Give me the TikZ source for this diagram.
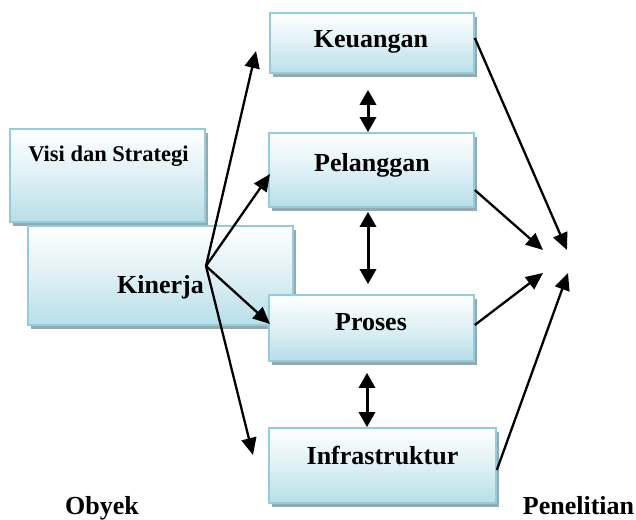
\documentclass[tikz,border=0pt]{standalone}
\usepackage{fontspec}
\setmainfont{Liberation Serif}
\usepackage{tikz}
\usetikzlibrary{arrows.meta}
\usetikzlibrary{shadows}

\definecolor{garis}{RGB}{147,205,221}
\definecolor{isian}{RGB}{183,222,232}
\definecolor{bayang}{RGB}{149,169,174}

\tikzset{
  kotak/.style={draw=garis, line width=1.6pt, top color=white,
    bottom color=isian, middle color=isian!45,
    drop shadow={shadow xshift=3pt, shadow yshift=-4pt, fill=bayang, opacity=1},
    inner sep=0pt},
  judul/.style={anchor=base, font=\bfseries\fontsize{26}{30}\selectfont, inner sep=0pt},
  panah/.style={line width=2.3pt, -{Triangle[length=17pt,width=15pt]}},
  panahdua/.style={line width=3pt,
    {Triangle[length=15pt,width=16pt]}-{Triangle[length=15pt,width=16pt]}}
}

\begin{document}
\begin{tikzpicture}[x=1pt,y=-1pt]
  \useasboundingbox
    (0,0)
    rectangle
    (636,519);
  \node[kotak, minimum width=195pt, minimum height=93pt]
    (visi) at (107.5,175.5) {};
  \node[kotak, minimum width=265pt, minimum height=99pt]
    (kin) at (160.5,275.5) {};
  \node[kotak, minimum width=204pt, minimum height=60pt]
    (keu) at (372,43) {};
  \node[kotak, minimum width=205pt, minimum height=74pt]
    (pel) at (371.5,170) {};
  \node[kotak, minimum width=205pt, minimum height=66pt]
    (pro) at (371.5,328) {};
  \node[kotak, minimum width=227pt, minimum height=75pt]
    (inf) at (382.5,465.5) {};
  \node[judul, font=\bfseries\fontsize{22.5}{26}\selectfont]
    (tvisi) at (108.5,161) {Visi dan Strategi};
  \node[judul] (tkin) at (160.5,293) {Kinerja};
  \node[judul] (tkeu) at (371,48) {Keuangan};
  \node[judul] (tpel) at (372,171) {Pelanggan};
  \node[judul] (tpro) at (371,330) {Proses};
  \node[judul] (tinf) at (382.5,464) {Infrastruktur};
  \node[judul] (obyek) at (102,514) {Obyek};
  \node[judul] (teliti) at (578.5,514) {Penelitian};
  \coordinate (pusat) at (206,266);
  \coordinate (keKeu) at (256,51);
  \coordinate (kePel) at (270,174);
  \coordinate (kePro) at (270,324);
  \coordinate (keInf) at (253,455);
  \coordinate (ujung1) at (567,250);
  \coordinate (ujung2) at (543,250);
  \coordinate (ujung3) at (543,273);
  \coordinate (ujung4) at (568,273);
  \draw[panah]
    (pusat)
    --
    (keKeu);
  \draw[panah]
    (pusat)
    --
    (kePel);
  \draw[panah]
    (pusat)
    --
    (kePro);
  \draw[panah]
    (pusat)
    --
    (keInf);
  \draw[panahdua]
    ([xshift=-4pt,yshift=-16pt]keu.south)
    --
    ([xshift=-3.5pt]pel.north);
  \draw[panahdua]
    ([xshift=-3.5pt,yshift=-4pt]pel.south)
    --
    ([xshift=-3.5pt,yshift=10pt]pro.north);
  \draw[panahdua]
    ([xshift=-4.5pt,yshift=-11pt]pro.south)
    --
    ([xshift=-15.5pt]inf.north);
  \draw[panah]
    ([yshift=5pt]keu.east)
    --
    (ujung1);
  \draw[panah]
    ([yshift=-20pt]pel.east)
    --
    (ujung2);
  \draw[panah]
    ([yshift=3pt]pro.east)
    --
    (ujung3);
  \draw[panah]
    ([yshift=-4.5pt]inf.east)
    --
    (ujung4);
\end{tikzpicture}
\end{document}
